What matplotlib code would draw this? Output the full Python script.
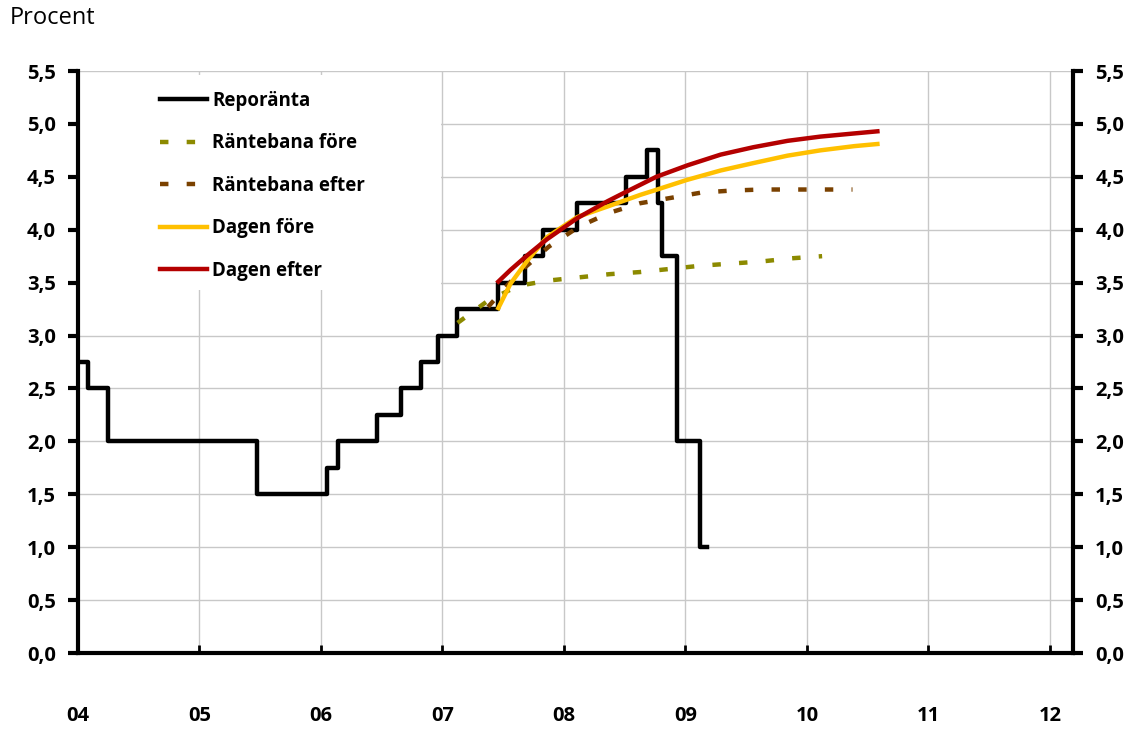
import numpy as np
import matplotlib.pyplot as plt
from matplotlib.ticker import FuncFormatter
from matplotlib.patches import Rectangle

plt.rcParams['font.family'] = ['Open Sans', 'DejaVu Sans']

# Reporänta (step series, decimal years)
repo_x = [2004.0, 2004.08, 2004.25, 2005.47, 2006.05, 2006.14, 2006.46, 2006.66,
          2006.82, 2006.96, 2007.12, 2007.46, 2007.68, 2007.83, 2008.11, 2008.51,
          2008.68, 2008.77, 2008.81, 2008.93, 2009.12, 2009.18]
repo_y = [2.75, 2.50, 2.00, 1.50, 1.75, 2.00, 2.25, 2.50,
          2.75, 3.00, 3.25, 3.50, 3.75, 4.00, 4.25, 4.50,
          4.75, 4.25, 3.75, 2.00, 1.00, 1.00]

# Räntebana före (quarterly)
fore_x = [2007.125, 2007.375, 2007.625, 2007.875, 2008.125, 2008.375, 2008.625,
          2008.875, 2009.125, 2009.375, 2009.625, 2009.875, 2010.125]
fore_y = [3.12, 3.33, 3.47, 3.52, 3.55, 3.58, 3.60, 3.63, 3.66, 3.68, 3.70, 3.73, 3.75]

# Räntebana efter (quarterly)
efter_x = [2007.375, 2007.625, 2007.875, 2008.125, 2008.375, 2008.625, 2008.875,
           2009.125, 2009.375, 2009.625, 2009.875, 2010.125, 2010.375]
efter_y = [3.27, 3.59, 3.84, 4.03, 4.16, 4.25, 4.30, 4.35, 4.37, 4.38, 4.38, 4.38, 4.38]

# Dagen före / Dagen efter (market curves)
dag_fore_x = [2007.46, 2007.56, 2007.70, 2007.86, 2008.11, 2008.36, 2008.63, 2008.74,
              2009.01, 2009.29, 2009.56, 2009.84, 2010.11, 2010.39, 2010.58]
dag_fore_y = [3.26, 3.49, 3.71, 3.93, 4.12, 4.22, 4.33, 4.37,
              4.47, 4.56, 4.63, 4.70, 4.75, 4.79, 4.81]
dag_efter_x = [2007.46, 2007.56, 2007.70, 2007.86, 2008.11, 2008.36, 2008.48, 2008.76,
               2009.02, 2009.29, 2009.56, 2009.84, 2010.11, 2010.39, 2010.58]
dag_efter_y = [3.51, 3.62, 3.76, 3.91, 4.11, 4.27, 4.34, 4.50,
               4.61, 4.71, 4.78, 4.84, 4.88, 4.91, 4.93]

years = list(range(2004, 2013))
year_labels = ['04', '05', '06', '07', '08', '09', '10', '11', '12']

fig = plt.figure(figsize=(11.37, 7.35), dpi=100)
ax = fig.add_axes([78 / 1137, 1 - 653 / 735, (1073 - 78) / 1137, (653 - 71) / 735])

lw = 3.2
ax.step(repo_x, repo_y, where='post', color='black', lw=lw, label='Reporänta', zorder=3)
ax.plot(fore_x, fore_y, color='#8C8A00', lw=lw, dashes=(1.9, 4.1), dash_capstyle='butt',
        label='Räntebana före', zorder=3)
ax.plot(efter_x, efter_y, color='#7A4100', lw=lw, dashes=(1.9, 4.1), dash_capstyle='butt',
        label='Räntebana efter', zorder=3)
ax.plot(dag_fore_x, dag_fore_y, color='#FFC000', lw=lw, label='Dagen före', zorder=4)
ax.plot(dag_efter_x, dag_efter_y, color='#B40000', lw=lw, label='Dagen efter', zorder=4)

ax.set_xlim(2004, 2012.19)
ax.set_ylim(0, 5.5)
ax.set_xticks(years)
ax.set_xticklabels(year_labels)
ax.set_yticks(np.arange(0, 5.51, 0.5))
ax.yaxis.set_major_formatter(FuncFormatter(lambda v, p: f'{v:.1f}'.replace('.', ',')))

ax.set_axisbelow(True)
ax.grid(True, color='#C8C8C8', lw=1)

for s in ['left', 'right', 'bottom']:
    ax.spines[s].set_linewidth(3)
ax.spines['top'].set_visible(False)

ax.tick_params(axis='y', direction='out', length=7, width=3, pad=9,
               labelsize=14.5, right=True, labelright=True)
ax.tick_params(axis='x', direction='in', length=6, width=2, pad=38, labelsize=14.5)
for t in ax.get_xticklabels():
    t.set_fontweight('bold')
for tick in ax.yaxis.get_major_ticks():
    tick.label1.set_fontweight('bold')
    tick.label2.set_fontweight('bold')

# white box behind the legend
ax.add_patch(Rectangle((0, 0.624), 0.365, 0.369, transform=ax.transAxes,
                       facecolor='white', edgecolor='none', zorder=1))
leg = ax.legend(loc='upper left', bbox_to_anchor=(0.0824, 0.966), frameon=False,
                borderpad=0, borderaxespad=0, handlelength=2.5, handletextpad=0.3,
                labelspacing=1.2, prop={'weight': 'bold', 'size': 13.5})

fig.text(10 / 1137, 1 - 18 / 735, 'Procent', fontsize=17, va='center', ha='left')

fig.savefig('out.png', dpi=100)
